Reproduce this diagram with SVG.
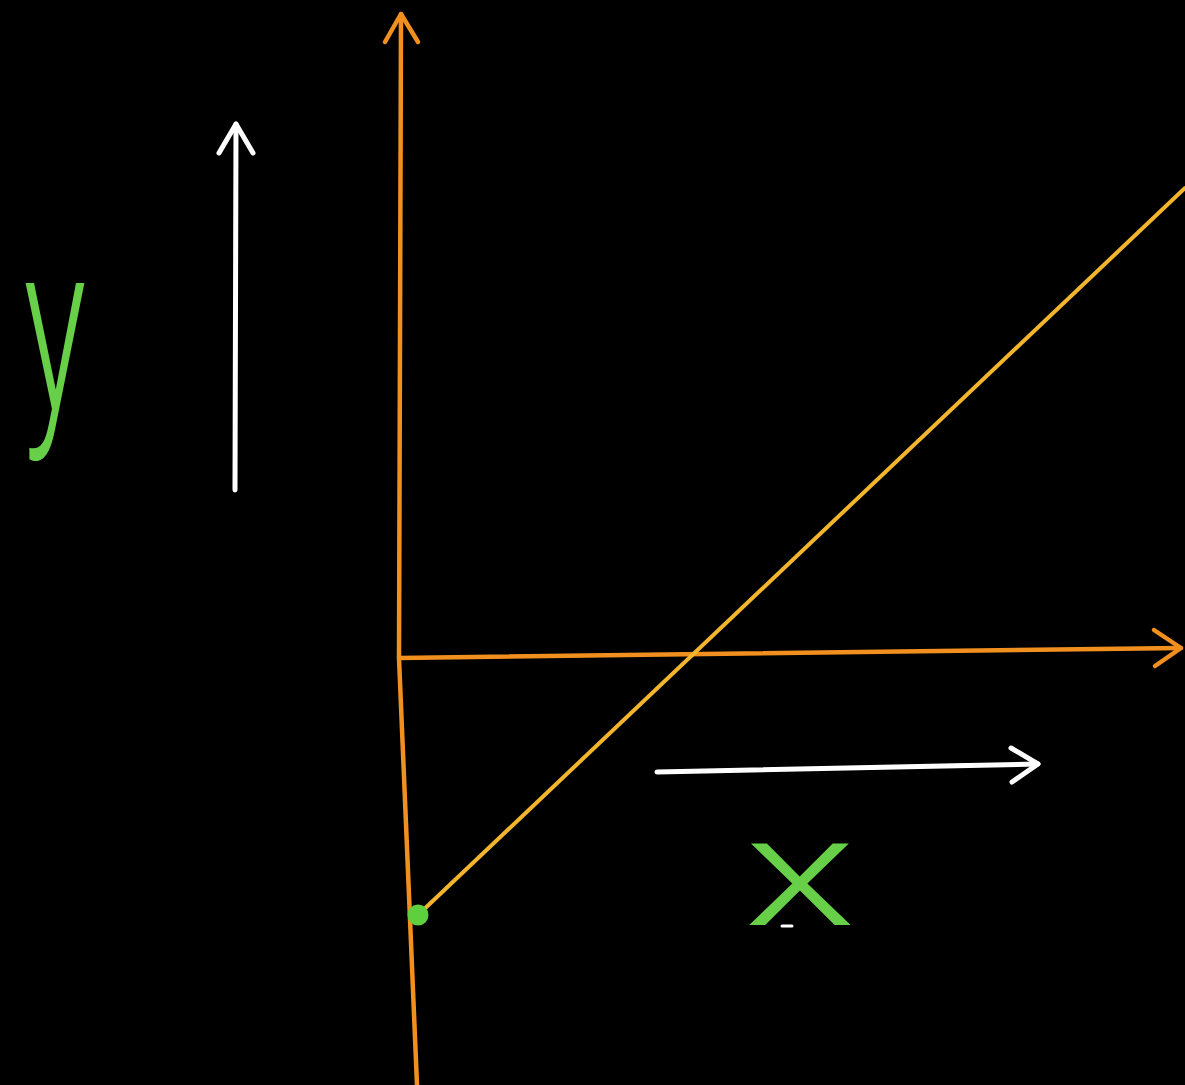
<svg xmlns="http://www.w3.org/2000/svg" width="1185" height="1085" viewBox="0 0 1185 1085">
<style>
.axis{stroke:#f2901f;stroke-width:4.5;fill:none;stroke-linecap:round;stroke-linejoin:round}
.line{stroke:#f3b52b;stroke-width:4;fill:none;stroke-linecap:round}
.white{stroke:#ffffff;stroke-width:5;fill:none;stroke-linecap:round;stroke-linejoin:round}
.lbl{fill:#68cf48;font-family:Roboto,"Liberation Sans",sans-serif;font-weight:300;text-anchor:middle}
</style>
<rect width="1185" height="1085" fill="#000"/>
<g id="connectors">
<path class="axis" d="M401,14 L399,658 L417,1085"/>
<path class="axis" d="M385,42 L401,14 L418,42"/>
<path class="axis" d="M399,658 L1181,648"/>
<path class="axis" d="M1154,630 L1181,648 L1155,666"/>
<path class="line" d="M418,915 L1185,188"/>
<path class="white" d="M235,490 L236,124"/>
<path class="white" d="M219,153 L236,124 L253,153"/>
<path class="white" d="M657,772 L1038,764"/>
<path class="white" d="M1011,748 L1038,764 L1012,782"/>
<path d="M782,926 L792,926" stroke="#fff" stroke-width="3" stroke-linecap="round"/>
</g>
<g id="point">
<circle cx="418" cy="915" r="10.5" fill="#5ed03e"/>
</g>
<g id="label-y">
<text class="lbl" font-size="240" font-weight="400" transform="translate(55,410) scale(0.55,1)">y</text>
</g>
<g id="label-x">
<text class="lbl" font-size="154" transform="translate(800,925) scale(1.5,1)">x</text>
</g>
</svg>
